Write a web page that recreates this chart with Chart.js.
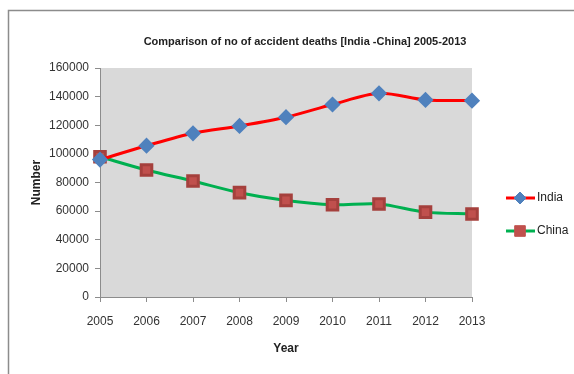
<!DOCTYPE html>
<html>
<head>
<meta charset="utf-8">
<script src="https://cdn.jsdelivr.net/npm/chart.js@4"></script>
<style>
  body { margin: 0; background: #fff; }
  #wrap { width: 574px; height: 374px; position: relative; }
</style>
</head>
<body>
<div id="wrap"><canvas id="grafico" width="574" height="374"></canvas></div>
<script>
// dados
const anos = ['2005', '2006', '2007', '2008', '2009', '2010', '2011', '2012', '2013'];
const india = [96000, 105700, 114400, 119500, 125600, 134500, 142300, 137700, 137200];
const china = [98000, 88700, 81000, 72900, 67500, 64500, 65000, 59300, 58000];
const titulo = 'Comparison of no of accident deaths [India -China] 2005-2013';

const corIndia = '#FF0000';
const corChina = '#00B050';
const corMarcaIndia = '#4F81BD';
const corMarcaChina = '#C0504D';

// fundo cinza da área do gráfico + moldura + título + legenda
const extras = {
    id: 'extras',
    beforeDraw(chart) {
        const { ctx, chartArea: a } = chart;
        ctx.save();
        ctx.fillStyle = '#D9D9D9';
        ctx.fillRect(a.left, a.top, a.right - a.left, a.bottom - a.top);
        ctx.strokeStyle = '#8C8C8C';
        ctx.lineWidth = 1.5;
        ctx.strokeRect(8.5, 10.5, 700, 500);
        ctx.restore();
    },
    afterDraw(chart) {
        const ctx = chart.ctx;
        ctx.save();
        ctx.fillStyle = '#222';
        ctx.font = 'bold 11px "Liberation Sans", sans-serif';
        ctx.textAlign = 'center';
        ctx.textBaseline = 'middle';
        ctx.fillText(titulo, 305, 42);

        const itens = [
            { nome: 'India', cor: corIndia, marca: 'rectRot', raio: 6, fundo: corMarcaIndia, y: 198 },
            { nome: 'China', cor: corChina, marca: 'rect', raio: 7.5, fundo: corMarcaChina, y: 231 }
        ];
        itens.forEach(it => {
            ctx.strokeStyle = it.cor;
            ctx.lineWidth = 3;
            ctx.beginPath();
            ctx.moveTo(506, it.y);
            ctx.lineTo(535, it.y);
            ctx.stroke();
            ctx.fillStyle = it.fundo;
            ctx.strokeStyle = it.fundo;
            ctx.lineWidth = 1;
            Chart.helpers.drawPoint(ctx, { pointStyle: it.marca, radius: it.raio, borderWidth: 1 }, 520, it.y);
            ctx.fillStyle = '#222';
            ctx.font = '12px "Liberation Sans", sans-serif';
            ctx.textAlign = 'left';
            ctx.fillText(it.nome, 537, it.y);
        });
        ctx.restore();
    }
};

const ctxG = document.getElementById('grafico').getContext('2d');
const grafico = new Chart(ctxG, {
    type: 'line',
    data: {
        labels: anos,
        datasets: [
            {
                label: 'India',
                data: india,
                borderColor: corIndia,
                borderWidth: 3,
                tension: 0.3,
                pointStyle: 'rectRot',
                pointRadius: 6,
                pointBackgroundColor: corMarcaIndia,
                pointBorderColor: corMarcaIndia
            },
            {
                label: 'China',
                data: china,
                borderColor: corChina,
                borderWidth: 3,
                tension: 0.3,
                pointStyle: 'rect',
                pointRadius: 7.5,
                pointBackgroundColor: corMarcaChina,
                pointBorderColor: '#A5403D'
            }
        ]
    },
    options: {
        responsive: false,
        animation: false,
        layout: { padding: { top: 68, left: 25, right: 102, bottom: 14 } },
        plugins: {
            legend: { display: false },
            title: { display: false },
            tooltip: { enabled: false }
        },
        scales: {
            x: {
                offset: false,
                grid: { drawOnChartArea: false, color: '#8C8C8C', tickLength: 5 },
                border: { color: '#8C8C8C' },
                ticks: { color: '#333', font: { size: 12, family: 'Liberation Sans' }, maxRotation: 0, padding: 12 },
                title: { display: true, text: 'Year', color: '#222', font: { size: 12, weight: 'bold', family: 'Liberation Sans' }, padding: { top: 6 } },
                afterFit(s) { s.height = 63; }
            },
            y: {
                min: 0,
                max: 160000,
                ticks: {
                    stepSize: 20000, color: '#333', font: { size: 12, family: 'Liberation Sans' }, padding: 6,
                    callback: v => String(v)
                },
                grid: { drawOnChartArea: false, color: '#8C8C8C', tickLength: 5 },
                border: { color: '#8C8C8C' },
                title: { display: true, text: 'Number', color: '#222', font: { size: 12, weight: 'bold', family: 'Liberation Sans' } },
                afterFit(s) { s.width = 75; }
            }
        }
    },
    plugins: [extras]
});
</script>
</body>
</html>
